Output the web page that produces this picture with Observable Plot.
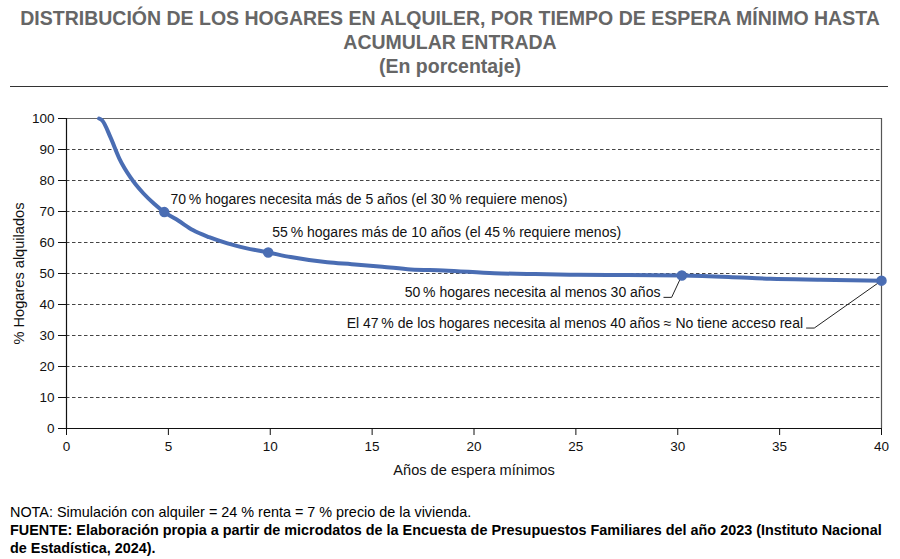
<!DOCTYPE html>
<html>
<head>
<meta charset="utf-8">
<script src="https://cdn.jsdelivr.net/npm/d3@7"></script>
<script src="https://cdn.jsdelivr.net/npm/@observablehq/plot@0.6"></script>
<style>
  html, body { margin: 0; padding: 0; background: #fff; }
  body { width: 900px; height: 559px; position: relative; overflow: hidden; font-family: "Liberation Sans", Arial, sans-serif; }
  #title { position: absolute; left: 0; top: 6px; width: 900px; text-align: center; color: #666; font-weight: bold; font-size: 19.5px; line-height: 24px; }
  #rule { position: absolute; left: 10px; top: 86px; width: 878px; height: 0; border-top: 1.5px solid #333; }
  #chart { position: absolute; left: 0; top: 100px; }
  #chart g[aria-label="x-axis label"] text, #chart g[aria-label="y-axis label"] text { font-size: 14.6px; }
  #notes { position: absolute; left: 10px; top: 503px; width: 885px; font-size: 14.4px; line-height: 18px; color: #000; }
  #notes b { font-weight: bold; }
</style>
</head>
<body>
<div id="title">DISTRIBUCIÓN DE LOS HOGARES EN ALQUILER, POR TIEMPO DE ESPERA MÍNIMO HASTA<br>ACUMULAR ENTRADA<br>(En porcentaje)</div>
<div id="rule"></div>
<div id="chart"></div>
<div id="notes">NOTA: Simulación con alquiler = 24 % renta = 7 % precio de la vivienda.<br><b>FUENTE: Elaboración propia a partir de microdatos de la Encuesta de Presupuestos Familiares del año 2023 (Instituto Nacional de Estadística, 2024).</b></div>
<script>
// Curve: years of waiting vs % of renting households
const years = [1.6, 1.75, 2.16, 2.6, 3.14, 3.78, 4.3, 4.8, 5.5, 6.2, 7, 7.9, 8.8, 9.9, 11, 12.8, 14, 15.5, 16.9, 18.5, 21, 23, 25.1, 27.5, 30.2, 32.5, 34.55, 37, 40];
const pcts  = [100, 99.4, 93.9, 87, 81, 75.8, 72.5, 69.8, 67, 64, 61.7, 59.7, 58.2, 56.8, 55.3, 53.6, 53, 52.2, 51.3, 51, 50.1, 49.8, 49.6, 49.5, 49.35, 48.9, 48.3, 48, 47.7];

// Highlighted points
const markerYears = [4.8, 9.9, 30.2, 40];
const markerPcts  = [69.8, 56.8, 49.35, 47.7];

// Annotation texts
const annotationTexts = [
  "70\u202F% hogares necesita más de 5 años (el 30\u202F% requiere menos)",
  "55\u202F% hogares más de 10 años (el 45\u202F% requiere menos)",
  "50\u202F% hogares necesita al menos 30 años",
  "El 47\u202F% de los hogares necesita al menos 40 años ≈ No tiene acceso real"
];
// Annotation label anchors (data coordinates)
const labelYears = [5.1, 10.1, 29.15, 36.15];
const labelPcts  = [73.9, 63.2, 43.9, 34.0];
const labelAnchors = ["start", "start", "end", "end"];

const xTicks = [0, 5, 10, 15, 20, 25, 30, 35, 40];
const yTicks = [0, 10, 20, 30, 40, 50, 60, 70, 80, 90, 100];

const curve = years.map((y, i) => ({year: y, pct: pcts[i]}));
const markers = markerYears.map((y, i) => ({year: y, pct: markerPcts[i]}));
const labels = annotationTexts.map((t, i) => ({text: t, year: labelYears[i], pct: labelPcts[i], anchor: labelAnchors[i]}));

const blue = "#4a6db3";
const W = 900, H = 380;

const chart = Plot.plot({
  width: W, height: H,
  marginTop: 18, marginBottom: 52, marginLeft: 66, marginRight: 19,
  x: {domain: [0, 40]},
  y: {domain: [0, 100]},
  style: {fontFamily: "'Liberation Sans', Arial, sans-serif", fontSize: "14px", color: "#111", background: "#fff", overflow: "visible"},
  marks: [
    Plot.ruleY(yTicks.filter(d => d > 0 && d < 100), {stroke: "#444", strokeDasharray: "3.5,2.5", strokeWidth: 1}),
    Plot.ruleY([100], {stroke: "#666", strokeWidth: 1.2}),
    Plot.ruleX([40], {stroke: "#555", strokeWidth: 1.2}),
    Plot.ruleX([0], {stroke: "#111", strokeWidth: 1.2}),
    Plot.ruleY([0], {stroke: "#111", strokeWidth: 1.2}),
    Plot.axisX({ticks: xTicks, tickSize: 7, tickPadding: 6, fontSize: 13.5, label: "Años de espera mínimos", labelAnchor: "center", labelArrow: "none", labelOffset: 46}),
    Plot.axisY({ticks: yTicks, tickSize: 8, tickPadding: 4, fontSize: 13.5, label: "% Hogares alquilados", labelAnchor: "center", labelArrow: "none", labelOffset: 53}),
    Plot.line(curve, {x: "year", y: "pct", stroke: blue, strokeWidth: 4, curve: "monotone-x", strokeLinecap: "round"}),
    // leader lines for the two right-hand annotations
    Plot.link(markers.slice(2), {
      x1: d => d.year, y1: d => d.pct,
      x2: (d, i) => labels[i + 2].year + 0.55, y2: (d, i) => labels[i + 2].pct - 1.6,
      stroke: "#222", strokeWidth: 1
    }),
    Plot.link(labels.slice(2), {
      x1: d => d.year + 0.55, y1: d => d.pct - 1.6,
      x2: d => d.year + 0.15, y2: d => d.pct - 1.6,
      stroke: "#222", strokeWidth: 1
    }),
    Plot.dot(markers, {x: "year", y: "pct", r: 4.5, fill: blue, stroke: blue}),
    Plot.text(labels.filter(d => d.anchor === "start"), {x: "year", y: "pct", text: "text", textAnchor: "start", fontSize: 14, fill: "#111"}),
    Plot.text(labels.filter(d => d.anchor === "end"), {x: "year", y: "pct", text: "text", textAnchor: "end", fontSize: 14, fill: "#111"})
  ]
});
document.getElementById("chart").appendChild(chart);
</script>
</body>
</html>
